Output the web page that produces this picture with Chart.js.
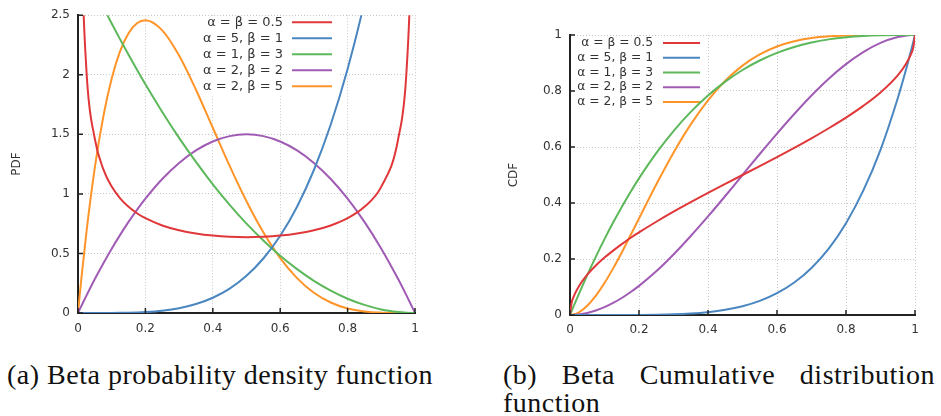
<!DOCTYPE html>
<html>
<head>
<meta charset="utf-8">
<script src="https://cdn.jsdelivr.net/npm/chart.js@4"></script>
<style>
  body { margin: 0; width: 941px; height: 416px; background: #fff; position: relative; overflow: hidden; }
  canvas { position: absolute; top: 0; }
  #pdfChart { left: 0; }
  #cdfChart { left: 470px; }
  .caption { position: absolute; font-family: "Liberation Serif", serif; font-size: 28px; line-height: 28px; color: #111; letter-spacing: 0.5px; }
  #capA { left: 7px; top: 361px; white-space: nowrap; }
  #capB { left: 503px; top: 361px; width: 432px; text-align: justify; }
</style>
</head>
<body>
<canvas id="pdfChart" width="470" height="345"></canvas>
<canvas id="cdfChart" width="471" height="345"></canvas>
<div class="caption" id="capA">(a) Beta probability density function</div>
<div class="caption" id="capB">(b) Beta Cumulative distribution function</div>
<script>
// values, shared x positions
const xs = [0, 0.005, 0.01, 0.025, 0.05, 0.075, 0.1, 0.125, 0.15, 0.175, 0.2, 0.25, 0.3, 0.35, 0.4, 0.45,
            0.5, 0.55, 0.6, 0.65, 0.7, 0.75, 0.8, 0.85, 0.9, 0.95, 0.975, 0.99, 0.995, 1];

const seriesLabels = ["α = β = 0.5", "α = 5, β = 1", "α = 1, β = 3", "α = 2, β = 2", "α = 2, β = 5"];
const seriesColors = ["#e0383a", "#4a86c0", "#5cb85a", "#a05cb5", "#ff9428"];

// PDF
const pdfA05 = [12, 4.51, 3.199, 2.039, 1.461, 1.2085, 1.061, 0.9625, 0.8914, 0.8377, 0.7958, 0.7351, 0.6946, 0.6674, 0.6497, 0.6398,
                0.6366, 0.6398, 0.6497, 0.6674, 0.6946, 0.7351, 0.7958, 0.8914, 1.061, 1.461, 2.039, 3.199, 4.51, 12];
const pdfA5B1 = [0, 0, 0, 0, 0, 0.0002, 0.0005, 0.0012, 0.0025, 0.0047, 0.008, 0.0195, 0.0405, 0.075, 0.128, 0.205,
                 0.3125, 0.4575, 0.648, 0.8925, 1.2005, 1.582, 2.048, 2.61, 3.28, 4.07, 4.52, 4.8, 4.9, 5];
const pdfA1B3 = [3, 2.97, 2.94, 2.852, 2.708, 2.567, 2.43, 2.297, 2.168, 2.042, 1.92, 1.688, 1.47, 1.268, 1.08, 0.908,
                 0.75, 0.608, 0.48, 0.368, 0.27, 0.188, 0.12, 0.068, 0.03, 0.008, 0.002, 0.0003, 0, 0];
const pdfA2B2 = [0, 0.03, 0.059, 0.146, 0.285, 0.416, 0.54, 0.656, 0.765, 0.866, 0.96, 1.125, 1.26, 1.365, 1.44, 1.485,
                 1.5, 1.485, 1.44, 1.365, 1.26, 1.125, 0.96, 0.765, 0.54, 0.285, 0.146, 0.059, 0.03, 0];
const pdfA2B5 = [0, 0.147, 0.288, 0.678, 1.222, 1.647, 1.968, 2.198, 2.349, 2.432, 2.458, 2.373, 2.161, 1.874, 1.555, 1.235,
                 0.938, 0.677, 0.461, 0.293, 0.17, 0.088, 0.038, 0.013, 0.003, 0.0002, 0, 0, 0, 0];

// CDF
const cdfA05 = [0, 0.045, 0.064, 0.101, 0.144, 0.177, 0.205, 0.23, 0.253, 0.275, 0.295, 0.333, 0.369, 0.403, 0.436, 0.468,
                0.5, 0.532, 0.564, 0.597, 0.631, 0.667, 0.705, 0.747, 0.795, 0.856, 0.899, 0.936, 0.955, 1];
const cdfA5B1 = [0, 0, 0, 0, 0, 0, 0, 0, 0.0001, 0.0002, 0.0003, 0.001, 0.0024, 0.0053, 0.0102, 0.0185,
                 0.0313, 0.0503, 0.0778, 0.116, 0.168, 0.237, 0.328, 0.444, 0.59, 0.774, 0.881, 0.951, 0.975, 1];
const cdfA1B3 = [0, 0.0149, 0.0297, 0.0731, 0.1426, 0.2085, 0.271, 0.3301, 0.3859, 0.4385, 0.488, 0.5781, 0.657, 0.7254, 0.784, 0.8336,
                 0.875, 0.9089, 0.936, 0.9571, 0.973, 0.9844, 0.992, 0.9966, 0.999, 0.9999, 1, 1, 1, 1];
const cdfA2B2 = [0, 0.0001, 0.0003, 0.0018, 0.0073, 0.016, 0.028, 0.043, 0.0608, 0.0812, 0.104, 0.156, 0.216, 0.282, 0.352, 0.425,
                 0.5, 0.575, 0.648, 0.718, 0.784, 0.844, 0.896, 0.939, 0.972, 0.993, 0.998, 0.9997, 0.9999, 1];
const cdfA2B5 = [0, 0.0004, 0.0015, 0.0087, 0.0328, 0.0691, 0.1143, 0.1665, 0.2235, 0.2838, 0.3446, 0.4661, 0.5798, 0.6809, 0.7667, 0.8364,
                 0.8906, 0.9308, 0.959, 0.9777, 0.9891, 0.9954, 0.9984, 0.9996, 1, 1, 1, 1, 1, 1];

const xTicks = [0, 0.2, 0.4, 0.6, 0.8, 1];
const pdfTicks = [0, 0.5, 1, 1.5, 2, 2.5];
const cdfTicks = [0, 0.2, 0.4, 0.6, 0.8, 1];

const tickFont = { family: "DejaVu Sans", size: 12 };
const textColor = "#333";

function makeDatasets(seriesList) {
  return seriesList.map((vals, i) => ({
    label: seriesLabels[i],
    data: vals.map((v, j) => ({ x: xs[j], y: v })),
    borderColor: seriesColors[i],
    borderWidth: 2,
    pointRadius: 0,
    fill: false,
    cubicInterpolationMode: "monotone"
  }));
}

// gnuplot-like key (text right-aligned, line sample on the right) and inward tick marks
const gnuplotKey = {
  id: "gnuplotKey",
  beforeDatasetsDraw(chart, args, opts) {
    const ctx = chart.ctx;
    const a = chart.chartArea;
    ctx.save();
    ctx.fillStyle = "#fff";
    ctx.fillRect(a.left + opts.box[0], a.top + opts.box[1], opts.box[2], opts.box[3]);
    ctx.font = opts.font;
    ctx.textAlign = "right";
    ctx.textBaseline = "middle";
    chart.data.datasets.forEach((ds, i) => {
      const y = a.top + opts.top + i * opts.rowHeight;
      ctx.fillStyle = textColor;
      ctx.fillText(ds.label, a.left + opts.textRight, y);
      ctx.strokeStyle = ds.borderColor;
      ctx.lineWidth = 2;
      ctx.beginPath();
      ctx.moveTo(a.left + opts.lineStart, y);
      ctx.lineTo(a.left + opts.lineEnd, y);
      ctx.stroke();
    });
    ctx.restore();
  },
  afterDraw(chart) {
    const ctx = chart.ctx;
    const a = chart.chartArea;
    ctx.save();
    ctx.strokeStyle = "#222";
    ctx.lineWidth = 1.5;
    ctx.beginPath();
    chart.scales.x.ticks.forEach(t => {
      const px = chart.scales.x.getPixelForValue(t.value);
      ctx.moveTo(px, a.bottom);
      ctx.lineTo(px, a.bottom - 5);
    });
    chart.scales.y.ticks.forEach(t => {
      const py = chart.scales.y.getPixelForValue(t.value);
      ctx.moveTo(a.left, py);
      ctx.lineTo(a.left + 5, py);
    });
    ctx.stroke();
    ctx.restore();
  }
};

function makeChart(id, datasets, yMax, yTicks, yTitle, dims, key) {
  return new Chart(document.getElementById(id), {
    type: "line",
    data: { datasets },
    plugins: [gnuplotKey],
    options: {
      responsive: false,
      devicePixelRatio: 1,
      animation: false,
      layout: { padding: { left: dims.padLeft, top: dims.padTop, right: dims.padRight, bottom: 0 } },
      plugins: {
        legend: { display: false },
        tooltip: { enabled: false },
        gnuplotKey: key
      },
      scales: {
        x: {
          type: "linear",
          min: 0,
          max: 1,
          afterBuildTicks: s => { s.ticks = xTicks.map(v => ({ value: v })); },
          afterFit: s => { s.height = dims.xHeight; },
          ticks: { font: tickFont, color: textColor, padding: dims.xPad, maxRotation: 0, callback: v => String(v) },
          grid: { color: "#c8c8c8", lineWidth: 1, drawTicks: false },
          border: { display: true, color: "#222", width: 2, dash: [1, 2] }
        },
        y: {
          type: "linear",
          min: 0,
          max: yMax,
          afterBuildTicks: s => { s.ticks = yTicks.map(v => ({ value: v })); },
          afterFit: s => { s.width = dims.yWidth; },
          ticks: { font: tickFont, color: textColor, padding: 8, callback: v => String(v) },
          grid: { color: "#c8c8c8", lineWidth: 1, drawTicks: false },
          border: { display: true, color: "#222", width: 2, dash: [1, 2] },
          title: { display: true, text: yTitle, font: { family: "DejaVu Sans", size: 12 }, color: textColor }
        }
      }
    }
  });
}

makeChart("pdfChart",
  makeDatasets([pdfA05, pdfA5B1, pdfA1B3, pdfA2B2, pdfA2B5]),
  2.5, pdfTicks, "PDF",
  { padLeft: 6, padTop: 15, padRight: 55, xHeight: 32, xPad: 9, yWidth: 72 },
  { font: "13px DejaVu Sans", textRight: 205, lineStart: 214, lineEnd: 254, top: 7, rowHeight: 16, box: [118, 1, 144, 80] });

makeChart("cdfChart",
  makeDatasets([cdfA05, cdfA5B1, cdfA1B3, cdfA2B2, cdfA2B5]),
  1, cdfTicks, "CDF",
  { padLeft: 33, padTop: 35, padRight: 26, xHeight: 30, xPad: 8, yWidth: 67 },
  { font: "12.3px DejaVu Sans", textRight: 83, lineStart: 93, lineEnd: 130, top: 8, rowHeight: 14.75, box: [4, 1, 131, 75] });
</script>
</body>
</html>
